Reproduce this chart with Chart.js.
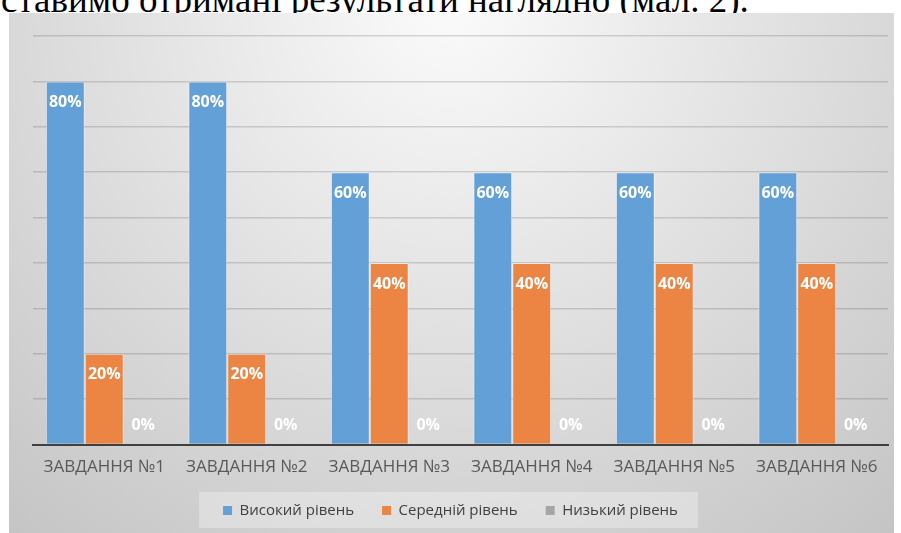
<!DOCTYPE html>
<html lang="uk">
<head>
<meta charset="utf-8">
<title>Рівні виконання завдань</title>
<script src="https://cdn.jsdelivr.net/npm/chart.js@4/dist/chart.umd.min.js"></script>
<style>
  html, body { margin: 0; background: #fff; }
  #wrap { position: relative; width: 901px; height: 533px; overflow: hidden; }
  .lead {
    position: absolute; left: 1px; top: -19px; white-space: nowrap;
    font-family: "Liberation Serif", "Times New Roman", serif; font-size: 37px; line-height: 37px; color: #000;
  }
  #chart { position: absolute; left: 0; top: 0; }
</style>
</head>
<body>
<div id="wrap">
  <div class="lead">ставимо отримані результати наглядно (мал. 2).</div>
  <canvas id="chart" width="901" height="533"></canvas>
</div>
<script>
const tasks = ["ЗАВДАННЯ №1", "ЗАВДАННЯ №2", "ЗАВДАННЯ №3", "ЗАВДАННЯ №4", "ЗАВДАННЯ №5", "ЗАВДАННЯ №6"];
const high = [80, 80, 60, 60, 60, 60];
const medium = [20, 20, 40, 40, 40, 40];
const low = [0, 0, 0, 0, 0, 0];
const seriesNames = ["Високий рівень", "Середній рівень", "Низький рівень"];

// gradient panel behind the chart, like the Excel chart area
const panel = {
  id: "panel",
  afterLayout(chart) {
    // legend in the original sits a bit left of the plot centre
    chart.legend.left -= 10;
    chart.legend.right -= 10;
  },
  beforeDraw(chart) {
    const { ctx } = chart;
    const g = ctx.createRadialGradient(450, 0, 0, 450, 0, 700);
    g.addColorStop(0, "#fbfbfb");
    g.addColorStop(1, "#c4c4c4");
    ctx.save();
    ctx.fillStyle = g;
    ctx.fillRect(9, 13, 885, 520);
    const boxes = chart.legend.legendHitBoxes;
    if (boxes && boxes.length) {
      const first = boxes[0];
      const last = boxes[boxes.length - 1];
      const left = first.left - 24;
      const right = last.left + last.width + 20;
      ctx.fillStyle = "rgba(255,255,255,0.3)";
      ctx.fillRect(left, 492, right - left, 36);
    }
    ctx.restore();
  },
};

// value labels inside the bar tops
const valueLabels = {
  id: "valueLabels",
  afterDatasetsDraw(chart) {
    const { ctx } = chart;
    ctx.save();
    ctx.font = 'bold 16px "Open Sans"';
    ctx.fillStyle = "#ffffff";
    ctx.textAlign = "center";
    ctx.textBaseline = "middle";
    chart.data.datasets.forEach((ds, i) => {
      chart.getDatasetMeta(i).data.forEach((bar, j) => {
        const v = ds.data[j];
        const y = v > 0 ? bar.y + 21 : bar.base - 19;
        ctx.fillText(v + "%", bar.x, y);
      });
    });
    ctx.restore();
  },
};

new Chart(document.getElementById("chart"), {
  type: "bar",
  data: {
    labels: tasks,
    datasets: [
      { label: seriesNames[0], data: high, backgroundColor: "#64a0d8" },
      { label: seriesNames[1], data: medium, backgroundColor: "#ec8543" },
      { label: seriesNames[2], data: low, backgroundColor: "#a5a5a5" },
    ],
  },
  options: {
    responsive: false,
    animation: false,
    datasets: { bar: { categoryPercentage: 0.82, barPercentage: 1, borderWidth: 1, borderColor: "rgba(255,255,255,0.45)" } },
    layout: { padding: { left: 33, right: 13, top: 36, bottom: 5 } },
    scales: {
      x: {
        z: 1,
        grid: { display: false, drawTicks: false },
        border: { color: "#404040", width: 2 },
        ticks: { color: "#595959", font: { size: 17, family: "Open Sans" }, padding: 12, maxRotation: 0 },
        afterFit: (scale) => { scale.height -= 14; },
      },
      y: {
        min: 0,
        max: 90,
        ticks: { display: false, stepSize: 10 },
        grid: { color: "rgba(0,0,0,0.14)", lineWidth: 1.5, drawTicks: false },
        border: { display: false },
      },
    },
    plugins: {
      legend: {
        position: "bottom",
        labels: {
          color: "#404040",
          font: { size: 15, family: "Open Sans" },
          boxWidth: 9,
          boxHeight: 9,
          padding: 28,
          generateLabels: (chart) =>
            Chart.defaults.plugins.legend.labels.generateLabels(chart).map((l) => ({ ...l, lineWidth: 0 })),
        },
      },
      tooltip: { enabled: false },
    },
  },
  plugins: [panel, valueLabels],
});
</script>
</body>
</html>
